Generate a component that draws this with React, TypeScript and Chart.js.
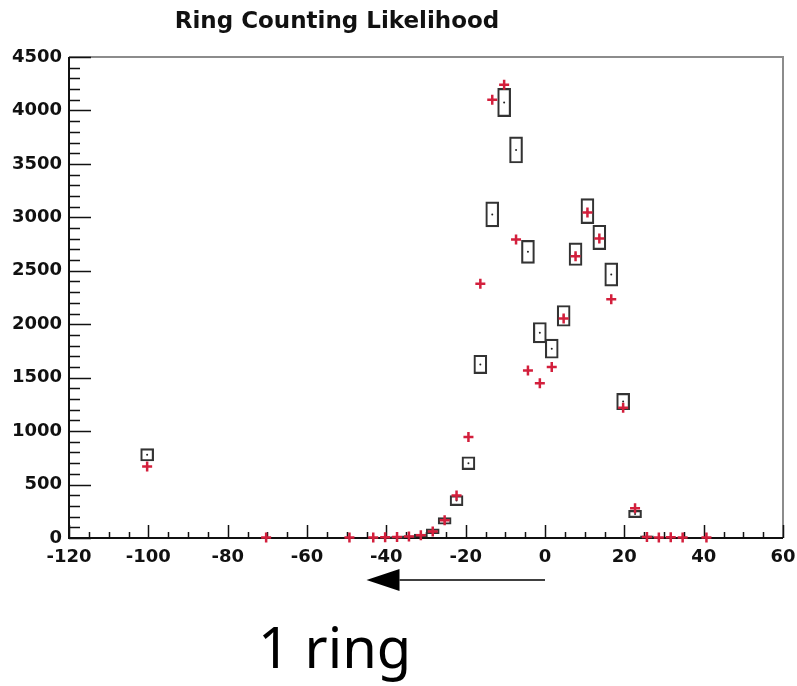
import React, { useEffect, useRef } from 'react';
import { Chart, registerables } from 'chart.js';

Chart.register(...registerables);

// Black boxes (histogram A): bin centre, content, half-height of error box
const boxX = [-100.3, -37.3, -34.3, -31.3, -28.3, -25.3, -22.3, -19.3, -16.3, -13.3, -10.3, -7.3, -4.3, -1.3, 1.7, 4.7, 7.7, 10.7, 13.7, 16.7, 19.7, 22.7, 25.7];
const boxY = [778, 5, 10, 22, 63, 160, 350, 700, 1624, 3027, 4074, 3630, 2677, 1921, 1771, 2078, 2655, 3058, 2812, 2465, 1277, 225, 12];
const boxErr = [58, 8, 10, 14, 23, 31, 47, 60, 86, 117, 132, 122, 108, 95, 89, 97, 106, 117, 114, 109, 76, 34, 8];

// Red crosses (histogram B)
const crossX = [-100.3, -70.3, -49.3, -43.3, -40.3, -37.3, -34.3, -31.3, -28.3, -25.3, -22.3, -19.3, -16.3, -13.3, -10.3, -7.3, -4.3, -1.3, 1.7, 4.7, 7.7, 10.7, 13.7, 16.7, 19.7, 22.7, 25.7, 28.7, 31.7, 34.7, 40.7];
const crossY = [668, 5, 5, 5, 8, 10, 15, 25, 60, 165, 397, 944, 2378, 4100, 4240, 2793, 1568, 1447, 1600, 2053, 2637, 3046, 2802, 2234, 1218, 278, 10, 5, 8, 5, 5];

// Axis ticks
const xTicks = [-120, -100, -80, -60, -40, -20, 0, 20, 40, 60];
const yTicks = [0, 500, 1000, 1500, 2000, 2500, 3000, 3500, 4000, 4500];
const xMinorStep = 5;
const yMinorStep = 100;

const titleText = 'Ring Counting Likelihood';
const noteText = '1 ring';
const arrowFrom = 0;
const arrowTo = -45;

const labelFont = { family: 'DejaVu Sans', weight: 'bold' as const, size: 18 };

const framePlugin = {
  id: 'frameTicks',
  beforeDatasetsDraw(chart: any) {
    const { ctx, chartArea: a, scales } = chart;
    const x = scales.x;
    const y = scales.y;
    ctx.save();
    ctx.strokeStyle = '#8c8c8c';
    ctx.lineWidth = 2;
    ctx.beginPath();
    ctx.moveTo(a.left, a.top);
    ctx.lineTo(a.right, a.top);
    ctx.lineTo(a.right, a.bottom);
    ctx.stroke();

    ctx.strokeStyle = '#111';
    ctx.lineWidth = 2;
    ctx.beginPath();
    ctx.moveTo(a.left, a.top);
    ctx.lineTo(a.left, a.bottom);
    ctx.lineTo(a.right, a.bottom);
    ctx.stroke();

    ctx.lineWidth = 1.5;
    ctx.beginPath();
    const yMin = yTicks[0];
    const yMax = yTicks[yTicks.length - 1];
    const yMajor = yTicks[1] - yTicks[0];
    for (let v = yMin; v <= yMax; v += yMinorStep) {
      const py = Math.round(y.getPixelForValue(v)) + 0.5;
      const len = v % yMajor === 0 ? 22 : 11;
      ctx.moveTo(a.left, py);
      ctx.lineTo(a.left + len, py);
    }
    const xMin = xTicks[0];
    const xMax = xTicks[xTicks.length - 1];
    const xMajor = xTicks[1] - xTicks[0];
    for (let v = xMin; v <= xMax; v += xMinorStep) {
      const px = Math.round(x.getPixelForValue(v)) + 0.5;
      const len = (v - xMin) % xMajor === 0 ? 13 : 6;
      ctx.moveTo(px, a.bottom);
      ctx.lineTo(px, a.bottom - len);
    }
    ctx.stroke();
    ctx.restore();
  },
  afterDraw(chart: any) {
    const { ctx, chartArea: a, scales } = chart;
    const x = scales.x;
    ctx.save();
    // title
    ctx.fillStyle = '#111';
    ctx.font = 'bold 23px "DejaVu Sans"';
    ctx.textAlign = 'center';
    ctx.textBaseline = 'middle';
    ctx.fillText(titleText, 337, 22);

    // arrow
    const x0 = x.getPixelForValue(arrowFrom);
    const x1 = x.getPixelForValue(arrowTo);
    const ay = a.bottom + 42;
    const headLen = 33;
    ctx.strokeStyle = '#000';
    ctx.lineWidth = 1.5;
    ctx.beginPath();
    ctx.moveTo(x0, ay);
    ctx.lineTo(x1 + headLen, ay);
    ctx.stroke();
    ctx.fillStyle = '#000';
    ctx.beginPath();
    ctx.moveTo(x1, ay);
    ctx.lineTo(x1 + headLen, ay - 11);
    ctx.lineTo(x1 + headLen, ay + 11);
    ctx.closePath();
    ctx.fill();

    // note text
    ctx.font = '56px "Noto Sans"';
    ctx.textAlign = 'left';
    ctx.textBaseline = 'alphabetic';
    ctx.fillText(noteText, 258, 668);
    ctx.restore();
  },
};

export default function App() {
  const ref = useRef<HTMLCanvasElement | null>(null);

  useEffect(() => {
    if (!ref.current) return;
    const chart = new Chart(ref.current, {
      type: 'bar',
      data: {
        datasets: [
          {
            type: 'scatter',
            label: 'B',
            data: crossX.map((v, i) => ({ x: v, y: crossY[i] })),
            pointStyle: 'cross',
            pointRadius: 5,
            borderWidth: 2.5,
            borderColor: '#d31f3c',
            backgroundColor: '#d31f3c',
            clip: false,
            order: 0,
          } as any,
          {
            type: 'scatter',
            label: 'A centres',
            data: boxX.map((v, i) => ({ x: v, y: boxY[i] })),
            pointStyle: 'circle',
            pointRadius: 1,
            borderWidth: 0,
            backgroundColor: '#222',
            clip: false,
            order: 1,
          } as any,
          {
            type: 'bar',
            label: 'A',
            data: boxX.map((v, i) => ({ x: v, y: [boxY[i] - boxErr[i], boxY[i] + boxErr[i]] })),
            backgroundColor: 'rgba(0,0,0,0)',
            borderColor: '#333',
            borderWidth: 1.5,
            borderSkipped: false,
            barThickness: 13,
            grouped: false,
            clip: false,
            order: 2,
          } as any,
        ],
      },
      options: {
        animation: false,
        responsive: false,
        events: [],
        layout: { padding: { top: 57, right: 14, left: 0, bottom: 0 } },
        plugins: {
          legend: { display: false },
          title: { display: false },
          tooltip: { enabled: false },
        },
        scales: {
          x: {
            type: 'linear',
            min: xTicks[0],
            max: xTicks[xTicks.length - 1],
            offset: false,
            grid: { display: false, drawTicks: false },
            border: { display: false },
            ticks: {
              font: labelFont,
              color: '#111',
              padding: 9,
              maxRotation: 0,
              autoSkip: false,
              callback: (v: any) => String(v),
            },
            afterBuildTicks: (s: any) => {
              s.ticks = xTicks.map((v) => ({ value: v }));
            },
            afterFit: (s: any) => {
              s.height = 148;
              s.paddingLeft = 0;
              s.paddingRight = 0;
            },
          },
          y: {
            type: 'linear',
            min: yTicks[0],
            max: yTicks[yTicks.length - 1],
            grid: { display: false, drawTicks: false },
            border: { display: false },
            ticks: {
              font: labelFont,
              color: '#111',
              padding: 7,
              autoSkip: false,
              callback: (v: any) => String(v),
            },
            afterBuildTicks: (s: any) => {
              s.ticks = yTicks.map((v) => ({ value: v }));
            },
            afterFit: (s: any) => {
              s.width = 69;
              s.paddingTop = 0;
              s.paddingBottom = 0;
            },
          },
        },
      },
      plugins: [framePlugin],
    } as any);
    return () => chart.destroy();
  }, []);

  return (
    <div style={{ position: 'absolute', left: 0, top: 0, width: 797, height: 686, background: '#fff' }}>
      <canvas ref={ref} width={797} height={686} style={{ display: 'block' }} />
    </div>
  );
}
